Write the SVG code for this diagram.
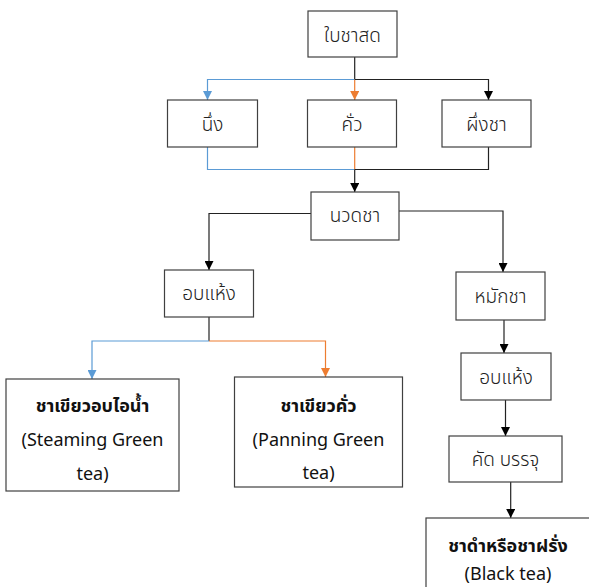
<svg xmlns="http://www.w3.org/2000/svg" width="589" height="587" viewBox="0 0 589 587">
<style>
.box{fill:#ffffff;stroke:#404040;stroke-width:1.2}
.lbl{font-family:"Noto Sans Thai","Noto Sans","Liberation Sans",sans-serif;font-size:19px;font-weight:300;fill:#222;text-anchor:middle}
.big{font-family:"Noto Sans Thai","Noto Sans","Liberation Sans",sans-serif;font-size:18px;fill:#111;text-anchor:middle}
.bold{font-weight:bold}
.k{fill:none;stroke:#222;stroke-width:1.2}
.b{fill:none;stroke:#5B9BD5;stroke-width:1.2}
.o{fill:none;stroke:#ED7D31;stroke-width:1.2}
</style>
<defs>
<marker id="ak" viewBox="0 0 10 10" refX="10" refY="5" markerWidth="9" markerHeight="9" markerUnits="userSpaceOnUse" orient="auto"><path d="M0,0 L10,5 L0,10 z" fill="#000"/></marker>
<marker id="ab" viewBox="0 0 10 10" refX="10" refY="5" markerWidth="9" markerHeight="9" markerUnits="userSpaceOnUse" orient="auto"><path d="M0,0 L10,5 L0,10 z" fill="#5B9BD5"/></marker>
<marker id="ao" viewBox="0 0 10 10" refX="10" refY="5" markerWidth="9" markerHeight="9" markerUnits="userSpaceOnUse" orient="auto"><path d="M0,0 L10,5 L0,10 z" fill="#ED7D31"/></marker>
</defs>
<g id="connectors">
<path class="k" d="M354.7,57 V79.5"/>
<path class="b" d="M354.7,79.5 H207.5 V100" marker-end="url(#ab)"/>
<path class="o" d="M354.7,79.5 V100" marker-end="url(#ao)"/>
<path class="k" d="M354.7,79.5 H488.5 V100" marker-end="url(#ak)"/>
<path class="b" d="M207.5,147 V169.5 H354.7"/>
<path class="o" d="M354.7,147 V169.5"/>
<path class="k" d="M488.5,147 V169.5 H354.7"/>
<path class="k" d="M354.7,169.5 V192" marker-end="url(#ak)"/>
<path class="k" d="M311,213.5 H209 V270" marker-end="url(#ak)"/>
<path class="k" d="M399,211 H503 V272" marker-end="url(#ak)"/>
<path class="k" d="M209,317 V341"/>
<path class="b" d="M209,341 H92 V379" marker-end="url(#ab)"/>
<path class="o" d="M209,341 H325.5 V377" marker-end="url(#ao)"/>
<path class="k" d="M504,320 V353" marker-end="url(#ak)"/>
<path class="k" d="M505.5,400 V436" marker-end="url(#ak)"/>
<path class="k" d="M510.7,482 V518" marker-end="url(#ak)"/>
</g>
<g id="n-freshleaf"><rect class="box" x="308" y="11" width="89" height="46"/><text class="lbl" x="352.5" y="42">ใบชาสด</text></g>
<g id="n-steam"><rect class="box" x="167.5" y="100" width="90" height="47"/><text class="lbl" x="212.5" y="131">นึ่ง</text></g>
<g id="n-pan"><rect class="box" x="307.5" y="100" width="89" height="47"/><text class="lbl" x="352" y="131">คั่ว</text></g>
<g id="n-wither"><rect class="box" x="442" y="100" width="89" height="47"/><text class="lbl" x="486.5" y="131">ผึ่งชา</text></g>
<g id="n-roll"><rect class="box" x="311" y="192" width="88" height="48"/><text class="lbl" x="355" y="222">นวดชา</text></g>
<g id="n-dry1"><rect class="box" x="164.5" y="270" width="89" height="47"/><text class="lbl" x="209" y="300">อบแห้ง</text></g>
<g id="n-ferment"><rect class="box" x="456" y="272" width="89" height="48"/><text class="lbl" x="500.5" y="303">หมักชา</text></g>
<g id="n-dry2"><rect class="box" x="461" y="353" width="90" height="47"/><text class="lbl" x="506" y="384">อบแห้ง</text></g>
<g id="n-sort"><rect class="box" x="449" y="436" width="113" height="46"/><text class="lbl" x="505.5" y="466">คัด บรรจุ</text></g>
<g id="n-steamgreen"><rect class="box" x="6" y="379" width="173" height="112"/>
<text class="big bold" x="92.5" y="412">ชาเขียวอบไอน้ำ</text>
<text class="big" x="92.5" y="446">(Steaming Green</text>
<text class="big" x="92.5" y="480">tea)</text></g>
<g id="n-pangreen"><rect class="box" x="234.5" y="377" width="168" height="110"/>
<text class="big bold" x="318.5" y="412">ชาเขียวคั่ว</text>
<text class="big" x="318.5" y="446">(Panning Green</text>
<text class="big" x="318.5" y="479">tea)</text></g>
<g id="n-black"><rect class="box" x="426" y="518" width="170" height="80"/>
<text class="big bold" x="508" y="552">ชาดำหรือชาฝรั่ง</text>
<text class="big" x="508" y="580">(Black tea)</text></g>
</svg>
